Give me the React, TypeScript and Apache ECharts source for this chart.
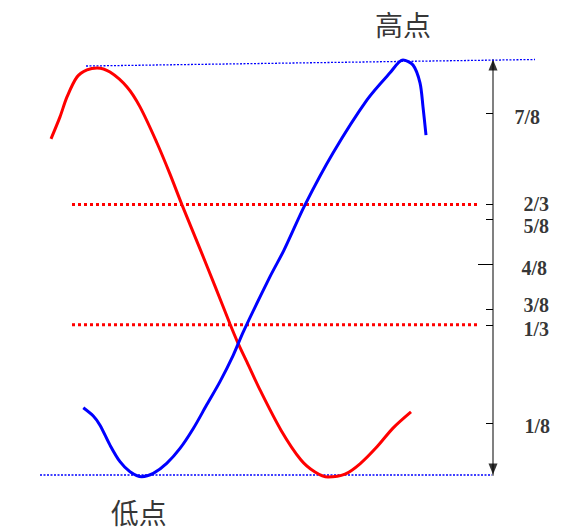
import React, { useEffect, useRef } from 'react';
import * as echarts from 'echarts';

// Curves: [time, level] where level 0 = low, 1 = high
const redCurve: number[][] = [
  [2.2, 0.81], [4.0, 0.863], [5.4, 0.911], [7.4, 0.959], [9.4, 0.976], [11.4, 0.981],
  [14.0, 0.971], [17.4, 0.935], [20.0, 0.887], [23.4, 0.8], [26.0, 0.725], [28.4, 0.651],
  [32.0, 0.545], [35.0, 0.455], [38.0, 0.364], [39.6, 0.318], [41.4, 0.272], [44.0, 0.205],
  [48.2, 0.108], [52.2, 0.036], [55.0, 0.007], [57.6, -0.005], [61.0, 0.002], [64.0, 0.027],
  [67.4, 0.068], [70.6, 0.113], [74.2, 0.152],
];
const blueCurve: number[][] = [
  [8.66, 0.162], [10.66, 0.142], [12.0, 0.12], [14.0, 0.072], [16.0, 0.032], [18.0, 0.008],
  [20.34, -0.004], [22.66, 0.004], [25.34, 0.028], [28.0, 0.064], [30.66, 0.112], [33.34, 0.169],
  [36.0, 0.225], [38.66, 0.289], [40.66, 0.345], [46.0, 0.478], [48.8, 0.542], [53.0, 0.651],
  [58.6, 0.776], [65.4, 0.904], [70.0, 0.969], [72.6, 1.0], [74.6, 0.988], [76.0, 0.945],
  [76.6, 0.887], [77.2, 0.819],
];
const highLevel: number[][] = [[9.2, 0.9855], [99, 1.0012]];
const lowLevel: number[][] = [[0, 0], [90.4, 0]];
const twoThirdLine: number[][] = [[6.4, 0.652], [87.6, 0.652]];
const oneThirdLine: number[][] = [[6.4, 0.362], [87.6, 0.362]];
const axisX = 90.6;

const tickLabels = ['7/8', '2/3', '5/8', '4/8', '3/8', '1/3', '1/8'];
const tickValues = [0.872, 0.652, 0.617, 0.508, 0.4, 0.362, 0.125];
const longTickValues = [0.508];

const pointLabels = ['高点', '低点'];
const highPoint = [72.6, 1.0];
const lowPoint = [20.34, -0.004];

// label nudges in pixels (layout only)
const labelShift: number[][] = [[21, 4], [30, 0], [30, 7], [28, 4], [30, -4], [30, 4], [31, 3]];

export default function App() {
  const ref = useRef<HTMLDivElement>(null);
  useEffect(() => {
    document.body.style.margin = '0';
    const chart = echarts.init(ref.current!, null, { renderer: 'svg' });
    const serif = '"Liberation Serif", "Times New Roman", serif';
    const cjk = '"Noto Sans CJK SC", sans-serif';
    chart.setOption({
      animation: false,
      backgroundColor: '#ffffff',
      grid: { left: 40, right: 39, top: 60, bottom: 57 },
      xAxis: { type: 'value', min: 0, max: 99, show: false },
      yAxis: [
        {
          type: 'value', min: 0, max: 1, position: 'right', offset: -42,
          splitLine: { show: false },
          axisLabel: { show: false },
          axisLine: { show: true, onZero: false, lineStyle: { color: '#808080', width: 2 } },
          axisTick: {
            show: true, inside: true, length: 7,
            customValues: tickValues,
            lineStyle: { color: '#000', width: 1 },
          },
        },
        {
          type: 'value', min: 0, max: 1, position: 'left', offset: -453,
          splitLine: { show: false },
          axisLabel: { show: false },
          axisLine: { show: false, onZero: false },
          axisTick: {
            show: true, inside: false, length: 15,
            customValues: longTickValues,
            lineStyle: { color: '#000', width: 1 },
          },
        },
      ],
      series: [
        {
          type: 'line', data: highLevel, symbol: 'none', clip: false, silent: true,
          lineStyle: { color: '#0000ff', width: 1.3, type: [2, 1.5] },
        },
        {
          type: 'line', data: lowLevel, symbol: 'none', clip: false, silent: true,
          lineStyle: { color: '#0000ff', width: 1.3, type: [2, 1.5] },
        },
        {
          type: 'line', data: twoThirdLine, symbol: 'none', clip: false, silent: true,
          lineStyle: { color: '#ff0000', width: 3, type: [3, 3] },
        },
        {
          type: 'line', data: oneThirdLine, symbol: 'none', clip: false, silent: true,
          lineStyle: { color: '#ff0000', width: 3, type: [3, 3] },
        },
        {
          type: 'line', data: redCurve, symbol: 'none', smooth: 0.3, clip: false, silent: true,
          lineStyle: { color: '#ff0000', width: 3 },
        },
        {
          type: 'line', data: blueCurve, symbol: 'none', smooth: 0.3, clip: false, silent: true,
          lineStyle: { color: '#0000ff', width: 3 },
        },
        {
          type: 'scatter', clip: false, silent: true,
          data: [
            { value: [axisX, 1], symbolOffset: [0, 5] },
            { value: [axisX, 0], symbolRotate: 180, symbolOffset: [0, -6] },
          ],
          symbol: 'triangle', symbolSize: [9, 11],
          itemStyle: { color: '#000' },
        },
        {
          type: 'scatter', clip: false, silent: true,
          symbolSize: 1,
          itemStyle: { color: 'rgba(0,0,0,0)' },
          data: tickValues.map((v, i) => ({
            value: [axisX, v],
            label: { formatter: tickLabels[i], offset: labelShift[i] },
          })),
          label: {
            show: true, position: 'right', distance: 0,
            fontFamily: serif, fontWeight: 'bold', fontSize: 20, color: '#000',
          },
        },
        {
          type: 'scatter', clip: false, silent: true,
          symbolSize: 1,
          itemStyle: { color: 'rgba(0,0,0,0)' },
          data: [
            { value: highPoint, label: { formatter: pointLabels[0], position: 'top', distance: 22 } },
            { value: lowPoint, label: { formatter: pointLabels[1], position: 'bottom', distance: 21, offset: [-3, 0] } },
          ],
          label: { show: true, fontFamily: cjk, fontSize: 28, color: '#000' },
        },
      ],
    });
    return () => chart.dispose();
  }, []);
  return <div ref={ref} style={{ width: 574, height: 532 }} />;
}
